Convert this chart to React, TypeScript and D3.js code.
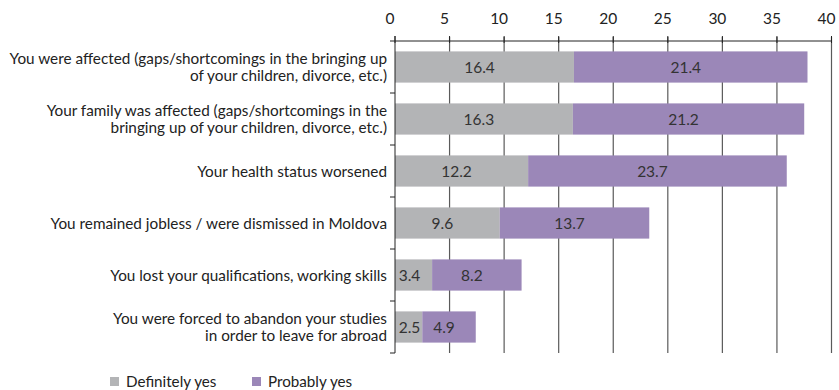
import React from "react";
import * as d3 from "d3";

const categories: string[][] = [
  ["You were affected (gaps/shortcomings in the bringing up", "of your children, divorce, etc.)"],
  ["Your family was affected (gaps/shortcomings in the", "bringing up of your children, divorce, etc.)"],
  ["Your health status worsened"],
  ["You remained jobless / were dismissed in Moldova"],
  ["You lost your qualifications, working skills"],
  ["You were forced to abandon your studies", "in order to leave for abroad"],
];
const definitelyYes = [16.4, 16.3, 12.2, 9.6, 3.4, 2.5];
const probablyYes = [21.4, 21.2, 23.7, 13.7, 8.2, 4.9];
const seriesNames = ["Definitely yes", "Probably yes"];
const colors = ["#b3b4b6", "#9b87b8"];
const xTicks = [0, 5, 10, 15, 20, 25, 30, 35, 40];

const W = 839, H = 390;
const FONT = "Lato, 'Open Sans', sans-serif";

export default function App() {
  const x = d3.scaleLinear().domain([0, 40]).range([395, 831.5]);
  const y = d3.scaleBand<number>().domain(d3.range(categories.length)).range([41, 353]).paddingInner(0.4).paddingOuter(0.2);
  const step = y.step();
  const top = 41, bottom = 353;
  const series = [definitelyYes, probablyYes];

  return (
    <svg width={W} height={H} style={{ position: "absolute", left: 0, top: 0, background: "#fff" }} fontFamily={FONT}>
      {/* gridlines */}
      {xTicks.slice(1).map((t) => (
        <line key={"g" + t} x1={x(t)} x2={x(t)} y1={top - 4} y2={bottom} stroke="#5a5a5a" strokeWidth={1.2} />
      ))}
      {/* bars */}
      {categories.map((_, i) => {
        let start = 0;
        return series.map((s, si) => {
          const v = s[i];
          const x0 = x(start);
          const x1 = x(start + v);
          start += v;
          const cx = Math.max((x0 + x1) / 2 - 5, x0 + 14.5);
          return (
            <g key={i + "-" + si}>
              <rect x={x0} y={y(i)!} width={x1 - x0} height={y.bandwidth()} fill={colors[si]} />
              <text x={cx} y={y(i)! + y.bandwidth() / 2} dy="0.36em" textAnchor="middle" fontSize={15.5} fill="#333">
                {v.toFixed(1)}
              </text>
            </g>
          );
        });
      })}
      {/* top axis */}
      <line x1={x(0)} x2={x(40)} y1={top} y2={top} stroke="#222" strokeWidth={1} />
      {xTicks.map((t) => (
        <g key={"t" + t}>
          <line x1={x(t)} x2={x(t)} y1={top - 5} y2={top + 2} stroke="#222" />
          <text x={x(t) - 5} y={18} dy="0.36em" textAnchor="middle" fontSize={15.5} fill="#222">{t}</text>
        </g>
      ))}
      {/* left axis */}
      <line x1={x(0)} x2={x(0)} y1={top - 5} y2={bottom} stroke="#222" />
      {d3.range(categories.length + 1).map((k) => (
        <line key={"yt" + k} x1={x(0) - 5} x2={x(0)} y1={top + k * step} y2={top + k * step} stroke="#222" />
      ))}
      {categories.map((lines, i) => {
        const cy = y(i)! + y.bandwidth() / 2;
        const lh = 17;
        const y0 = cy - ((lines.length - 1) * lh) / 2;
        return (
          <text key={"c" + i} textAnchor="end" fontSize={15.3} fill="#222">
            {lines.map((l, li) => (
              <tspan key={li} x={387} y={y0 + li * lh} dy="0.36em">{l}</tspan>
            ))}
          </text>
        );
      })}
      {/* legend */}
      {seriesNames.map((n, i) => {
        const lx = [110, 252][i];
        return (
          <g key={"l" + i}>
            <rect x={lx} y={377} width={9} height={9} fill={colors[i]} />
            <text x={lx + 16} y={382} dy="0.36em" fontSize={15.2} fill="#222">{n}</text>
          </g>
        );
      })}
    </svg>
  );
}
